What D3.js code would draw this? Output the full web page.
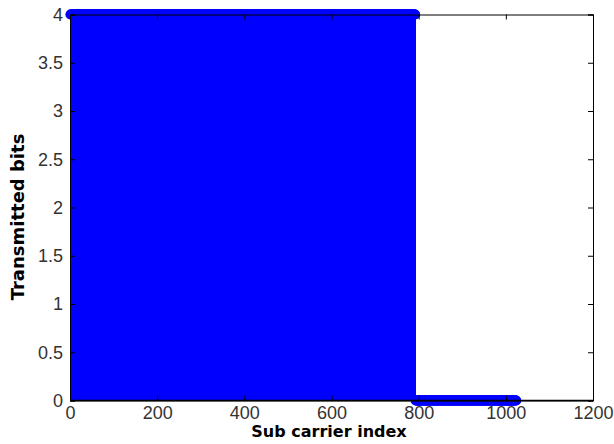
<!DOCTYPE html>
<html>
<head>
<meta charset="utf-8">
<script src="https://cdn.jsdelivr.net/npm/d3@7"></script>
<style>
  body { margin: 0; background: #fff; }
  svg { display: block; }
  .tick text { font-family: "Liberation Sans", Arial, sans-serif; font-size: 18px; fill: #333; }
  .lbl { font-family: "DejaVu Sans", sans-serif; font-weight: bold; fill: #000; }
</style>
</head>
<body>
<svg id="chart" width="614" height="444"></svg>
<script>
// bit loading per sub carrier, stored as runs (first index, last index, bits)
const runStart = [1, 793]
const runEnd = [792, 1024]
const runBits = [4, 0]

const xTicks = [0, 200, 400, 600, 800, 1000, 1200]
const yTicks = [0, 0.5, 1, 1.5, 2, 2.5, 3, 3.5, 4]

// expand runs into one point per sub carrier
let points = []
runStart.forEach((s, i) => {
    d3.range(s, runEnd[i] + 1).forEach(k => points.push({ k: k, b: runBits[i] }))
})

const svg = d3.select("#chart")
const L = 70, T = 14.5, R = 593, B = 400.5
const BLUE = "#0000ff"

let x = d3.scaleLinear().domain([0, 1200]).range([L, R])
let y = d3.scaleLinear().domain([0, 4]).range([B, T])

// stems
svg.append("g")
    .attr("shape-rendering", "crispEdges")
    .selectAll("line")
    .data(points)
    .join("line")
    .attr("x1", d => x(d.k)).attr("x2", d => x(d.k))
    .attr("y1", y(0)).attr("y2", d => y(d.b))
    .attr("stroke", BLUE)
    .attr("stroke-width", 1)

// markers
svg.append("g")
    .selectAll("circle")
    .data(points)
    .join("circle")
    .attr("cx", d => x(d.k))
    .attr("cy", d => y(d.b))
    .attr("r", 5)
    .attr("fill", BLUE)

// baseline
svg.append("line")
    .attr("x1", L).attr("x2", R)
    .attr("y1", y(0)).attr("y2", y(0))
    .attr("stroke", "#000").attr("stroke-width", 1.5)

// box + ticks (matlab style, inward ticks on all sides)
let axB = svg.append("g").attr("transform", `translate(0,${B})`)
    .call(d3.axisBottom(x).tickValues(xTicks).tickSize(-5).tickPadding(6).tickFormat(d3.format("d")))
let axL = svg.append("g").attr("transform", `translate(${L},0)`)
    .call(d3.axisLeft(y).tickValues(yTicks).tickSize(-5).tickPadding(7).tickFormat(d => d))
let axT = svg.append("g").attr("transform", `translate(0,${T})`)
    .call(d3.axisTop(x).tickValues(xTicks).tickSize(-5).tickFormat(""))
let axR = svg.append("g").attr("transform", `translate(${R},0)`)
    .call(d3.axisRight(y).tickValues(yTicks).tickSize(-5).tickFormat(""))

;[axB, axL, axT, axR].forEach(a => {
    a.select(".domain").attr("stroke", "#000")
    a.selectAll(".tick line").attr("stroke", "#000")
})

// labels
svg.append("text").attr("class", "lbl")
    .attr("x", 329).attr("y", 437)
    .attr("font-size", 16)
    .attr("text-anchor", "middle")
    .text("Sub carrier index")
svg.append("text").attr("class", "lbl")
    .attr("font-size", 18)
    .attr("transform", "translate(24,217) rotate(-90)")
    .attr("text-anchor", "middle")
    .text("Transmitted bits")
</script>
</body>
</html>
